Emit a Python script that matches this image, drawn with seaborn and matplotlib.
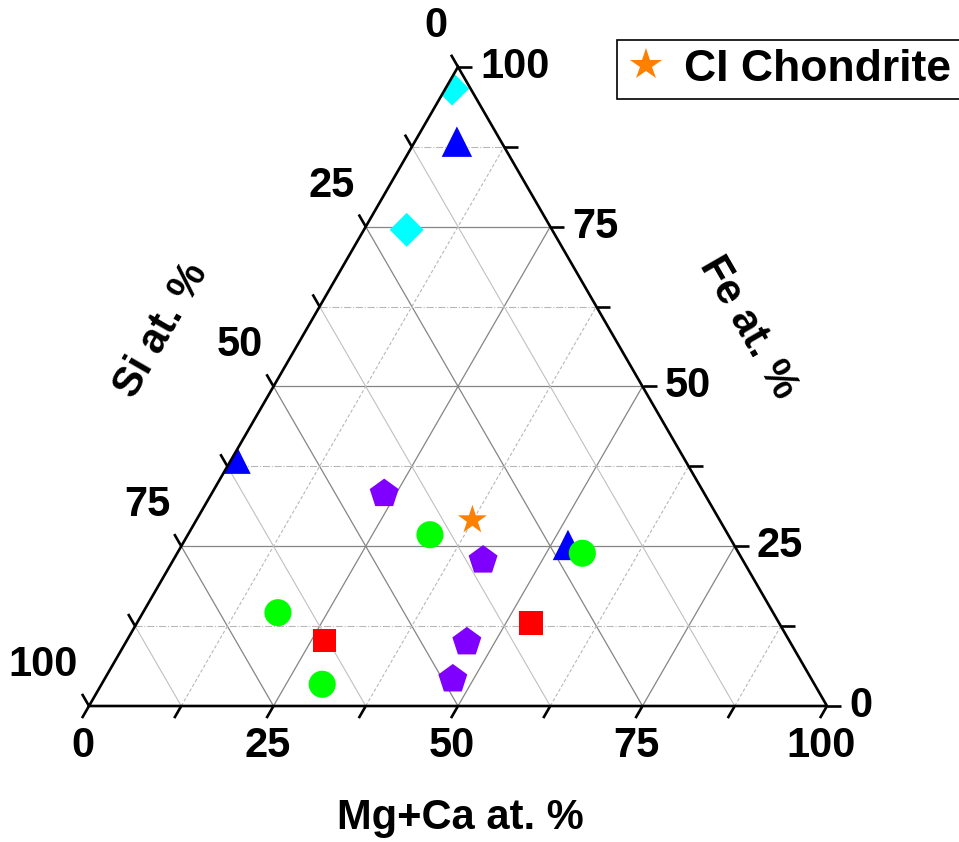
import numpy as np
import pandas as pd
import matplotlib
matplotlib.use("Agg")
import matplotlib.pyplot as plt
import seaborn as sns
from matplotlib.lines import Line2D
from matplotlib.patches import Polygon

# ---------------- data (atomic %) ----------------
group = (["Type A"] * 2 + ["Type B"] * 3 + ["Type C"] * 4 + ["Type D"] * 2
         + ["Type E"] * 4 + ["CI Chondrite"])
mgca = [0.9, 5.8, 5.7, 0.5, 52.3, 32.8, 54.9, 18.3, 29.9, 26.8, 53.4,
        23.4, 42.0, 46.2, 47.2, 37.4]
fe = [96.6, 74.5, 88.3, 38.7, 25.2, 26.8, 23.9, 14.6, 3.4, 10.3, 13.0,
      33.2, 22.8, 10.0, 4.2, 29.1]
si = [2.5, 19.7, 6.0, 60.8, 22.5, 40.4, 21.2, 67.1, 66.7, 62.9, 33.6,
      43.4, 35.2, 43.8, 48.6, 33.5]

tick_values = [0, 25, 50, 75, 100]
tick_labels = ["0", "25", "50", "75", "100"]
minor_values = [12.5, 37.5, 62.5, 87.5]

colors = {"Type A": "#00FFFF", "Type B": "#0000FF", "Type C": "#00FF00",
          "Type D": "#FF0000", "Type E": "#8000FF", "CI Chondrite": "#FF8000"}
markers = {"Type A": "D", "Type B": "^", "Type C": "o", "Type D": "s",
           "Type E": "p", "CI Chondrite": "*"}
sizes = {"Type A": 300, "Type B": 480, "Type C": 380, "Type D": 280,
         "Type E": 480, "CI Chondrite": 480}

H = np.sqrt(3) / 2


def proj(b, f, s):
    tot = np.asarray(b) + np.asarray(f) + np.asarray(s)
    b = 100 * np.asarray(b) / tot
    f = 100 * np.asarray(f) / tot
    return b + f / 2, f * H


x, y = proj(mgca, fe, si)
df = pd.DataFrame({"x": x, "y": y, "group": group})

sns.set_style("white")
plt.rcParams["font.family"] = ["Liberation Sans", "DejaVu Sans"]
plt.rcParams["font.weight"] = "bold"
plt.rcParams["text.color"] = "black"

fig = plt.figure(figsize=(9.59, 8.42), dpi=100)
ax = fig.add_axes([0, 0, 1, 1])
S = 7.38  # px per unit
ax.set_xlim(-89 / S, (959 - 89) / S)
ax.set_ylim(-(842 - 706) / S, 706 / S)
ax.axis("off")

# ---------------- grid ----------------
def line_const_fe(v):
    return proj([0, 100 - v], [v, v], [100 - v, 0])

def line_const_mg(v):
    return proj([v, v], [0, 100 - v], [100 - v, 0])

def line_const_si(v):
    return proj([100 - v, 0], [0, 100 - v], [v, v])

for v in [25, 50, 75]:
    for fn in (line_const_fe, line_const_mg, line_const_si):
        gx, gy = fn(v)
        ax.plot(gx, gy, color="#858585", lw=0.9, zorder=1)
for v in minor_values:
    gx, gy = line_const_fe(v)
    ax.plot(gx, gy, color="#b8b8b8", lw=0.8, ls="-.", zorder=1)
    gx, gy = line_const_mg(v)
    ax.plot(gx, gy, color="#b8b8b8", lw=0.8, ls=(0, (3, 2)), zorder=1)
    gx, gy = line_const_si(v)
    ax.plot(gx, gy, color="#c0c0c0", lw=0.8, ls="-", zorder=1)

# ---------------- frame ----------------
cx, cy = proj([0, 100, 0], [0, 0, 100], [100, 0, 0])
tri = Polygon(np.column_stack([cx, cy]), closed=True, fill=False,
              edgecolor="black", lw=1.9, zorder=5, joinstyle="miter")
ax.add_patch(tri)

# ticks
L = 14 / S
all_ticks = sorted(tick_values + minor_values)
for v in all_ticks:
    bx, by = proj([v], [0], [100 - v])
    ax.plot([bx[0], bx[0] - 0.5 * L], [by[0], by[0] - H * L],
            color="black", lw=1.9, zorder=5, solid_capstyle="butt")
    rx, ry = proj([100 - v], [v], [0])
    ax.plot([rx[0], rx[0] + L], [ry[0], ry[0]], color="black", lw=1.9,
            zorder=5, solid_capstyle="butt")
    lx, ly = proj([0], [100 - v], [v])
    ax.plot([lx[0], lx[0] - 0.5 * L], [ly[0], ly[0] + H * L],
            color="black", lw=1.9, zorder=5, solid_capstyle="butt")

fs = 30
for v, lab in zip(tick_values, tick_labels):
    bx, by = proj([v], [0], [100 - v])
    ax.annotate(lab, (bx[0], by[0]), xytext=(-6, -40), textcoords="offset pixels",
                ha="center", va="center", fontsize=fs, fontweight="bold",
                color="black")
    rx, ry = proj([100 - v], [v], [0])
    ax.annotate(lab, (rx[0], ry[0]), xytext=(22, 0), textcoords="offset pixels",
                ha="left", va="center", fontsize=fs, fontweight="bold",
                color="black")
    lx, ly = proj([0], [100 - v], [v])
    ax.annotate(lab, (lx[0], ly[0]), xytext=(-11, 41), textcoords="offset pixels",
                ha="right", va="center", fontsize=fs, fontweight="bold",
                color="black")

# axis titles
def fig_txt(px, py, s, rot=0):
    fig.text(px / 959, 1 - py / 842, s, ha="center", va="center",
             rotation=rot, fontsize=fs, fontweight="bold",
             rotation_mode="anchor", color="black")

fig_txt(460, 818, "Mg+Ca at. %")
fig_txt(162, 330, "Si at. %", 60)
fig_txt(748, 328, "Fe at. %", -60)

# ---------------- points ----------------
order = ["Type A", "Type B", "Type C", "Type D", "Type E", "CI Chondrite"]
sns.scatterplot(data=df, x="x", y="y", hue="group", style="group",
                size="group", hue_order=order, style_order=order,
                size_order=order, palette=colors, markers=markers,
                sizes=sizes, linewidth=0, legend=False, ax=ax, zorder=3)
for coll in ax.collections:
    coll.set_clip_path(tri)

handle = Line2D([], [], marker="*", color="#FF8000", ls="none",
                markersize=24, markeredgewidth=0)
leg = ax.legend([handle], ["CI Chondrite"], loc="upper left",
                bbox_to_anchor=(617 / 959, 1 - 40 / 842),
                bbox_transform=fig.transFigure, frameon=True, fancybox=False,
                framealpha=1, prop={"size": 32, "weight": "bold"},
                borderpad=0.2, handletextpad=0.4, handlelength=0.9,
                borderaxespad=0)
leg.get_frame().set_edgecolor("black")
leg.get_frame().set_linewidth(1.2)
for t in leg.get_texts():
    t.set_color("black")

fig.savefig("out.png", dpi=100)
